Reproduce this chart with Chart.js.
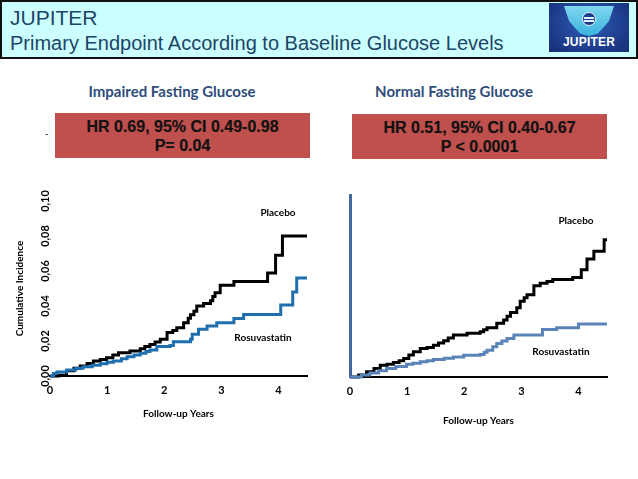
<!DOCTYPE html>
<html>
<head>
<meta charset="utf-8">
<script src="https://cdn.jsdelivr.net/npm/chart.js@4.4.1/dist/chart.umd.min.js"></script>
<style>
  html, body { margin:0; padding:0; background:#fff; }
  body { width:638px; height:479px; position:relative; overflow:hidden; font-family:"Liberation Sans", Arial, sans-serif; }
  #header { position:absolute; left:0; top:0; width:634px; height:55px; background:#ccffff; border:2px solid #111; }
  #h1 { position:absolute; left:8px; top:4px; font-size:21px; color:#1d4566; line-height:24px; }
  #h2 { position:absolute; left:8px; top:29px; font-size:20px; color:#1d4566; line-height:24px; white-space:nowrap; }
  #logo { position:absolute; left:549px; top:3px; width:80px; height:49px; background:radial-gradient(ellipse at 50% 40%, #2f5fb5 0%, #1c3a8a 70%, #162f70 100%); }
  #shield { position:absolute; left:15px; top:3px; width:50px; height:30px; background:linear-gradient(#7fd6f0, #3bb3de); clip-path:polygon(0 0, 100% 0, 90% 50%, 68% 92%, 50% 100%, 32% 92%, 10% 50%); }
  #globe { position:absolute; left:33px; top:9px; width:14px; height:14px; border-radius:50%; background:#1c3a8a; border:1px solid #e0f4ff; box-sizing:border-box; }
  #globe:before { content:""; position:absolute; left:1px; right:1px; top:4px; height:2px; background:#e0f4ff; }
  #globe:after { content:""; position:absolute; left:1px; right:1px; top:7px; height:2px; background:#e0f4ff; }
  #logotxt { position:absolute; left:0; width:80px; top:32px; text-align:center; font-weight:bold; font-size:12px; color:#fff; letter-spacing:0.2px; }
  .sub { position:absolute; top:82px; font-family:Lato, "Open Sans", sans-serif; font-weight:bold; font-size:15px; color:#2e4d7b; white-space:nowrap; transform:translateX(-50%); }
  .box { position:absolute; height:45px; width:255px; background:#c0504d; color:#111; font-weight:bold; font-size:16px; text-align:center; line-height:19px; padding-top:4px; box-sizing:border-box; text-shadow:0 0 1px rgba(0,0,0,0.25); }
  .lbl { position:absolute; font-family:Lato, sans-serif; font-weight:bold; font-size:10px; color:#000; transform:translate(-50%,-50%); white-space:nowrap; }
  .cw { position:absolute; top:185px; height:245px; }
</style>
</head>
<body>
<div id="header">
  <div id="h1">JUPITER</div>
  <div id="h2">Primary Endpoint According to Baseline Glucose Levels</div>
</div>
<div id="logo"><div id="shield"></div><div id="globe"></div><div id="logotxt">JUPITER</div></div>

<div class="sub" style="left:172px;">Impaired Fasting Glucose</div>
<div class="sub" style="left:454px;">Normal Fasting Glucose</div>

<div style="position:absolute;left:45px;top:128px;font-size:10px;color:#333;">-</div>
<div class="box" style="left:55px;top:113px;">HR 0.69, 95% CI 0.49-0.98<br>P= 0.04</div>
<div class="box" style="left:352px;top:114px;">HR 0.51, 95% CI 0.40-0.67<br>P &lt; 0.0001</div>

<div class="cw" style="left:0;width:320px;"><canvas id="c1"></canvas></div>
<div class="cw" style="left:320px;width:318px;"><canvas id="c2"></canvas></div>

<div class="lbl" style="left:278px;top:212px;">Placebo</div>
<div class="lbl" style="left:263px;top:337px;">Rosuvastatin</div>
<div class="lbl" style="left:576px;top:220px;">Placebo</div>
<div class="lbl" style="left:561px;top:351px;">Rosuvastatin</div>

<script>
// ---- Data (years, cumulative incidence) ----
const xTicks = [0, 1, 2, 3, 4];
const yTicks = [0, 0.02, 0.04, 0.06, 0.08, 0.10];

// Impaired fasting glucose
const ifgPlaceboT  = [0, 0.15, 0.29, 0.42, 0.53, 0.65, 0.76, 0.88, 0.99, 1.1, 1.2, 1.4, 1.58, 1.66, 1.75, 1.84, 1.93, 2.05, 2.15, 2.22, 2.34, 2.42, 2.46, 2.52, 2.57, 2.69, 2.81, 2.85, 2.89, 2.98, 3.22, 3.81, 3.95, 4.07, 4.5];
const ifgPlaceboY  = [0, 0.0005, 0.003, 0.0045, 0.0057, 0.0072, 0.0086, 0.0095, 0.0105, 0.012, 0.0133, 0.0143, 0.0156, 0.0168, 0.018, 0.0195, 0.021, 0.0248, 0.026, 0.0276, 0.0305, 0.033, 0.035, 0.037, 0.040, 0.0415, 0.043, 0.0455, 0.0476, 0.0518, 0.0540, 0.0589, 0.069, 0.080, 0.080];
const ifgRosuT     = [0, 0.06, 0.12, 0.29, 0.45, 0.58, 0.74, 0.88, 1.0, 1.11, 1.25, 1.35, 1.47, 1.58, 1.68, 1.75, 1.87, 2.1, 2.16, 2.46, 2.49, 2.6, 2.75, 2.92, 3.22, 3.39, 4.04, 4.25, 4.32, 4.5];
const ifgRosuY     = [0, 0.0015, 0.0023, 0.0034, 0.0045, 0.0053, 0.0062, 0.007, 0.0078, 0.0086, 0.0098, 0.011, 0.012, 0.013, 0.014, 0.0149, 0.0168, 0.0175, 0.0196, 0.021, 0.0238, 0.0267, 0.0286, 0.0305, 0.0328, 0.0352, 0.0406, 0.048, 0.056, 0.056];

// Normal fasting glucose
const nfgPlaceboT  = [0, 0.15, 0.29, 0.42, 0.53, 0.65, 0.76, 0.86, 0.94, 1.03, 1.11, 1.23, 1.35, 1.46, 1.55, 1.64, 1.72, 1.81, 2.05, 2.28, 2.34, 2.4, 2.57, 2.69, 2.75, 2.81, 2.92, 2.98, 3.05, 3.1, 3.22, 3.33, 3.45, 3.55, 3.9, 4.05, 4.15, 4.27, 4.45, 4.5];
const nfgPlaceboY  = [0, 0.0012, 0.003, 0.0048, 0.0067, 0.0073, 0.0082, 0.0093, 0.0105, 0.0125, 0.0143, 0.0162, 0.0168, 0.018, 0.0193, 0.0206, 0.0222, 0.0238, 0.0248, 0.0257, 0.0268, 0.028, 0.0305, 0.0324, 0.0345, 0.0366, 0.0394, 0.043, 0.045, 0.0467, 0.0518, 0.0533, 0.0543, 0.0554, 0.0566, 0.061, 0.067, 0.0714, 0.078, 0.078];
const nfgRosuT     = [0, 0.2, 0.35, 0.5, 0.64, 0.8, 0.99, 1.1, 1.23, 1.35, 1.46, 1.65, 1.81, 1.99, 2.28, 2.35, 2.4, 2.5, 2.57, 2.66, 2.75, 2.87, 3.37, 3.62, 4.0, 4.5];
const nfgRosuY     = [0, 0.0012, 0.0023, 0.0036, 0.0048, 0.006, 0.0072, 0.0078, 0.0086, 0.0093, 0.01, 0.0107, 0.0114, 0.0124, 0.0128, 0.014, 0.0152, 0.0172, 0.019, 0.0205, 0.0219, 0.0238, 0.0270, 0.0280, 0.0301, 0.0301];

const pts = (t, y) => t.map((v, i) => ({ x: v, y: y[i] }));
const F = { family: 'Lato', weight: 'bold', size: 11 };
const FT = { family: 'Lato', weight: 'bold', size: 10 };

const yTickPlugin = {
  id: 'yTickLabels',
  afterDraw(chart) {
    if (!chart.options.plugins.yTickLabels || !chart.options.plugins.yTickLabels.show) return;
    const s = chart.scales.y, ctx = chart.ctx;
    ctx.save();
    ctx.font = 'bold 11px Lato';
    ctx.fillStyle = '#000';
    ctx.textAlign = 'center';
    ctx.textBaseline = 'middle';
    yTicks.forEach(v => {
      const py = s.getPixelForValue(v);
      ctx.save();
      ctx.translate(45, py);
      ctx.rotate(-Math.PI / 2);
      ctx.fillText(v.toFixed(2).replace('.', ','), 0, 0);
      ctx.restore();
    });
    ctx.restore();
  }
};

function makeChart(id, opts) {
  return new Chart(document.getElementById(id), {
    type: 'line',
    data: {
      datasets: [
        { data: opts.rosu, borderColor: opts.rosuColor, borderWidth: 3, pointRadius: 0, stepped: true, fill: false, clip: 6 },
        { data: opts.plac, borderColor: '#000', borderWidth: 3, pointRadius: 0, stepped: true, fill: false, clip: 6 }
      ]
    },
    plugins: [yTickPlugin],
    options: {
      responsive: true,
      maintainAspectRatio: false,
      animation: false,
      layout: { padding: { top: opts.padTop, right: opts.padRight, left: 0, bottom: 0 } },
      plugins: { legend: { display: false }, tooltip: { enabled: false }, yTickLabels: { show: opts.yLabels } },
      scales: {
        x: {
          type: 'linear', min: 0, max: 4.5,
          afterFit: s => { s.height = opts.xH; },
          grid: { display: false, drawTicks: false },
          border: { display: true, color: '#000', width: 2 },
          ticks: { stepSize: 1, includeBounds: false, padding: 8, color: '#000', font: F,
                   callback: v => xTicks.includes(v) ? String(v) : '' },
          title: { display: true, text: 'Follow-up Years', color: '#000', font: FT, padding: { top: 0, bottom: opts.xTitlePad } }
        },
        y: {
          type: 'linear', min: 0, max: opts.yMax,
          afterFit: s => { s.width = opts.yW; },
          grid: { display: false, drawTicks: false },
          border: { display: opts.yBorder, color: '#46689c', width: 3 },
          ticks: { display: false, stepSize: 0.02, includeBounds: false },
          title: { display: opts.yTitle, text: 'Cumulative Incidence', color: '#000', font: FT, padding: { top: 14, bottom: 0 } }
        }
      }
    }
  });
}

makeChart('c1', {
  rosu: pts(ifgRosuT, ifgRosuY), plac: pts(ifgPlaceboT, ifgPlaceboY), rosuColor: '#1f6fae',
  padTop: 16, padRight: 13, xH: 54, yW: 50, yMax: 0.10, yBorder: false, yTitle: true, yLabels: true, xTitlePad: 10
});
makeChart('c2', {
  rosu: pts(nfgRosuT, nfgRosuY), plac: pts(nfgPlaceboT, nfgPlaceboY), rosuColor: '#5a84b8',
  padTop: 10, padRight: 31, xH: 53, yW: 30, yMax: 0.1034, yBorder: true, yTitle: false, yLabels: false, xTitlePad: 3
});
</script>
</body>
</html>
